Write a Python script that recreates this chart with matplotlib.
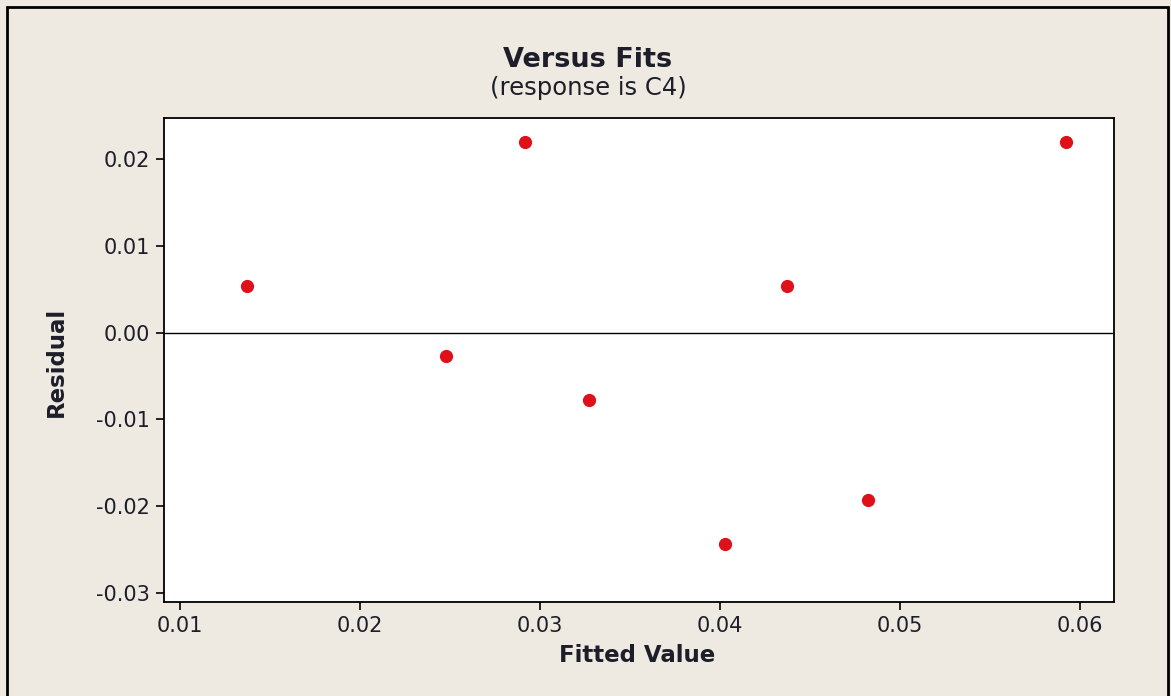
import matplotlib
matplotlib.use("Agg")
import matplotlib.pyplot as plt
from matplotlib.patches import Rectangle

plt.rcParams['font.family'] = ['DejaVu Sans']

fitted = [0.01372, 0.02478, 0.02917, 0.03272, 0.04028, 0.04372, 0.04822, 0.05922]
residual = [0.00537, -0.00270, 0.02196, -0.00777, -0.02435, 0.00537, -0.01929, 0.02196]
xticks = [0.01, 0.02, 0.03, 0.04, 0.05, 0.06]
yticks = [-0.03, -0.02, -0.01, 0.00, 0.01, 0.02]

W, H = 1171, 696
bg = "#EEEAE1"
txtc = "#1E1E2A"
fig = plt.figure(figsize=(W/100, H/100), dpi=100, facecolor=bg)

# outer frame (bottom edge runs off the image)
fig.patches.append(Rectangle((7/W, -0.02), (1168-7)/W, (H-7)/H + 0.02, transform=fig.transFigure,
                             fill=False, edgecolor="black", linewidth=2))

L, R, T, B = 164, 1114, 118, 602
ax = fig.add_axes([L/W, 1-B/H, (R-L)/W, (B-T)/H])
ax.set_facecolor("white")
ax.set_xlim(0.009111, 0.06189)
ax.set_ylim(-0.03104, 0.02472)
ax.axhline(0, color="black", linewidth=1)
ax.plot(fitted, residual, "o", color="#E0101A", markersize=8.5, linestyle="none")

ax.set_xticks(xticks)
ax.set_xticklabels([f"{v:.2f}" for v in xticks])
ax.set_yticks(yticks)
ax.set_yticklabels([f"{v:.2f}" for v in yticks])
ax.tick_params(axis="both", labelsize=15, length=6, width=1.2, color="black", labelcolor=txtc)
ax.tick_params(axis="x", pad=4)
ax.tick_params(axis="y", pad=4)
for s in ax.spines.values():
    s.set_linewidth(1.3)

ax.set_xlabel("Fitted Value", fontsize=16.5, fontweight="bold", color=txtc, va="center")
ax.set_ylabel("Residual", fontsize=16.5, fontweight="bold", color=txtc, va="center")
ax.xaxis.set_label_coords((637-L)/(R-L), (B-655)/(B-T))
ax.yaxis.set_label_coords((56-L)/(R-L), (B-362)/(B-T))

fig.text(588/W, 1 - 60/H, "Versus Fits", ha="center", va="center",
         fontsize=19.5, fontweight="bold", color=txtc)
fig.text(588/W, 1 - 88/H, "(response is C4)", ha="center", va="center",
         fontsize=17.5, color=txtc)

fig.savefig("out.png", dpi=100, facecolor=bg)
